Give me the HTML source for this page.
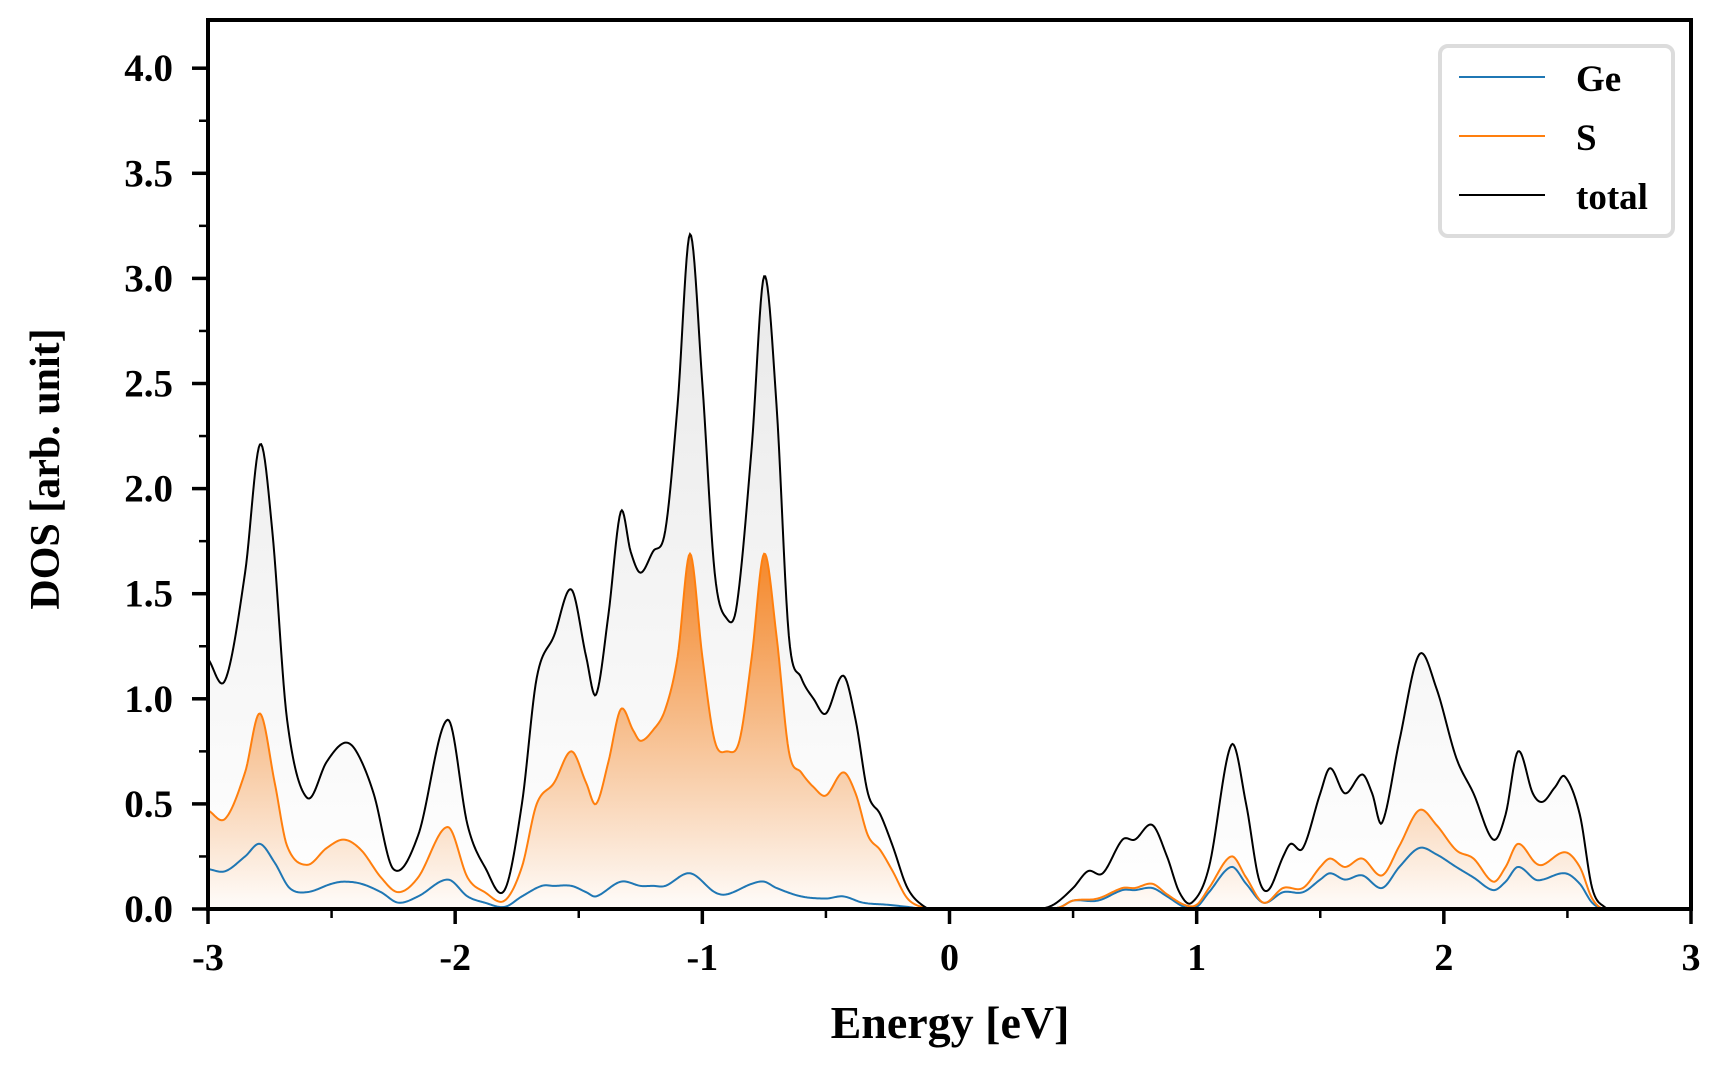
<!DOCTYPE html>
<html><head><meta charset="utf-8"><style>
html,body{margin:0;padding:0;background:#fff;}
svg{display:block;}
text{font-family:"Liberation Serif",serif;font-weight:bold;fill:#000;}
</style></head><body>
<svg id="chart" width="1728" height="1080" viewBox="0 0 1728 1080" xmlns="http://www.w3.org/2000/svg">
<defs>
<linearGradient id="gTot" gradientUnits="userSpaceOnUse" x1="0" y1="240" x2="0" y2="909">
<stop offset="0" stop-color="#e8e8e8"/><stop offset="1" stop-color="#ffffff"/></linearGradient>
<linearGradient id="gS" gradientUnits="userSpaceOnUse" x1="0" y1="553" x2="0" y2="909">
<stop offset="0" stop-color="#f5821f" stop-opacity="0.95"/><stop offset="1" stop-color="#f5821f" stop-opacity="0.02"/></linearGradient>
</defs>
<g id="plot"></g>
<rect x="208" y="20" width="1483" height="889" fill="none" stroke="#000" stroke-width="4"/>
<g id="ticks"></g>
<text x="950" y="1038" font-size="46" text-anchor="middle">Energy [eV]</text>
<text x="0" y="0" font-size="42" text-anchor="middle" transform="translate(59,469) rotate(-90)">DOS [arb. unit]</text>
<g>
<rect x="1440" y="46" width="233" height="190" rx="8" fill="#fff" fill-opacity="0.85" stroke="#dcdcdc" stroke-width="4"/>
<line x1="1459" y1="77" x2="1545" y2="77" stroke="#1f77b4" stroke-width="2"/>
<text x="1576" y="91" font-size="37">Ge</text>
<line x1="1459" y1="136" x2="1545" y2="136" stroke="#ff7f0e" stroke-width="2"/>
<text x="1576" y="150" font-size="37">S</text>
<line x1="1459" y1="195" x2="1545" y2="195" stroke="#000" stroke-width="2"/>
<text x="1576" y="209" font-size="37">total</text>
</g>
</svg>
<script>
const totalE=[-3,-2.93,-2.85,-2.79,-2.74,-2.68,-2.6,-2.52,-2.45,-2.4,-2.33,-2.25,-2.15,-2.03,-1.95,-1.88,-1.8,-1.73,-1.67,-1.6,-1.53,-1.47,-1.43,-1.38,-1.33,-1.29,-1.25,-1.2,-1.15,-1.1,-1.05,-1.0,-0.95,-0.9,-0.86,-0.8,-0.75,-0.7,-0.65,-0.6,-0.55,-0.5,-0.43,-0.38,-0.33,-0.28,-0.23,-0.17,-0.1,-0.05,0.35,0.42,0.5,0.56,0.62,0.7,0.75,0.82,0.88,0.93,0.98,1.05,1.14,1.2,1.25,1.29,1.35,1.38,1.43,1.5,1.54,1.6,1.67,1.71,1.75,1.82,1.9,1.97,2.05,2.12,2.2,2.25,2.3,2.36,2.4,2.45,2.49,2.55,2.6,2.65,2.7,3];
const totalV=[1.19,1.09,1.6,2.21,1.8,0.9,0.53,0.7,0.79,0.75,0.55,0.19,0.35,0.9,0.4,0.2,0.09,0.5,1.1,1.3,1.52,1.2,1.02,1.4,1.89,1.7,1.6,1.7,1.8,2.4,3.21,2.5,1.6,1.38,1.45,2.2,3.01,2.4,1.3,1.1,1.0,0.93,1.11,0.9,0.55,0.45,0.3,0.1,0.01,0,0,0.02,0.1,0.18,0.17,0.33,0.33,0.4,0.25,0.08,0.03,0.2,0.78,0.5,0.15,0.09,0.25,0.31,0.29,0.55,0.67,0.55,0.64,0.55,0.41,0.8,1.21,1.05,0.72,0.55,0.33,0.45,0.75,0.55,0.51,0.58,0.63,0.45,0.1,0.01,0,0];
const sE=[-3,-2.93,-2.85,-2.79,-2.73,-2.68,-2.6,-2.52,-2.45,-2.38,-2.3,-2.23,-2.15,-2.03,-1.95,-1.88,-1.8,-1.73,-1.67,-1.6,-1.53,-1.47,-1.43,-1.38,-1.33,-1.28,-1.25,-1.2,-1.15,-1.1,-1.05,-1.0,-0.95,-0.9,-0.85,-0.8,-0.75,-0.7,-0.65,-0.6,-0.55,-0.5,-0.43,-0.38,-0.33,-0.28,-0.23,-0.17,-0.1,-0.05,0.4,0.45,0.5,0.6,0.7,0.75,0.82,0.88,0.95,1.0,1.05,1.14,1.2,1.27,1.35,1.43,1.5,1.54,1.6,1.67,1.75,1.82,1.9,1.97,2.05,2.12,2.2,2.25,2.3,2.37,2.4,2.49,2.55,2.6,2.65,3];
const sV=[0.47,0.43,0.65,0.93,0.6,0.3,0.21,0.29,0.33,0.28,0.15,0.08,0.15,0.39,0.15,0.08,0.04,0.2,0.5,0.6,0.75,0.6,0.5,0.7,0.95,0.85,0.8,0.85,0.95,1.2,1.69,1.2,0.8,0.75,0.8,1.2,1.69,1.3,0.75,0.65,0.58,0.54,0.65,0.55,0.35,0.28,0.18,0.05,0.005,0,0,0.01,0.04,0.05,0.1,0.1,0.12,0.07,0.02,0.02,0.1,0.25,0.15,0.03,0.1,0.1,0.2,0.24,0.2,0.24,0.16,0.3,0.47,0.4,0.28,0.24,0.13,0.2,0.31,0.22,0.21,0.27,0.2,0.05,0,0];
const geE=[-3,-2.93,-2.85,-2.79,-2.73,-2.67,-2.6,-2.5,-2.45,-2.38,-2.3,-2.23,-2.15,-2.03,-1.95,-1.88,-1.8,-1.73,-1.65,-1.6,-1.53,-1.47,-1.43,-1.33,-1.25,-1.2,-1.15,-1.05,-0.95,-0.9,-0.8,-0.75,-0.7,-0.6,-0.5,-0.43,-0.35,-0.25,-0.17,-0.1,0.4,0.45,0.5,0.6,0.7,0.75,0.82,0.88,0.95,1.0,1.05,1.14,1.2,1.27,1.35,1.43,1.5,1.54,1.6,1.67,1.75,1.82,1.9,1.97,2.05,2.12,2.2,2.25,2.3,2.37,2.4,2.49,2.55,2.6,2.65,3];
const geV=[0.19,0.18,0.25,0.31,0.22,0.1,0.08,0.12,0.13,0.12,0.08,0.03,0.06,0.14,0.06,0.03,0.01,0.06,0.11,0.11,0.11,0.08,0.06,0.13,0.11,0.11,0.11,0.17,0.08,0.07,0.12,0.13,0.1,0.06,0.05,0.06,0.03,0.02,0.01,0,0,0.01,0.04,0.04,0.09,0.09,0.1,0.06,0.01,0.01,0.08,0.2,0.12,0.03,0.08,0.08,0.14,0.17,0.14,0.16,0.1,0.2,0.29,0.26,0.2,0.15,0.09,0.13,0.2,0.14,0.14,0.17,0.12,0.03,0,0];
const xTicks=[-3,-2,-1,0,1,2,3];
const xTickLabels=["-3","-2","-1","0","1","2","3"];
const yTicks=[0,0.5,1,1.5,2,2.5,3,3.5,4];
const yTickLabels=["0.0","0.5","1.0","1.5","2.0","2.5","3.0","3.5","4.0"];

const X0=208,X1=1691,Y0=909,YTOP=20;
const xMin=-3,xMax=3,yMin=0,yMax=(Y0-YTOP)/210.2;
function sx(e){return X0+(e-xMin)/(xMax-xMin)*(X1-X0);}
function sy(v){return Y0-(v-yMin)/(yMax-yMin)*(Y0-YTOP);}
const NS="http://www.w3.org/2000/svg";
function mk(tag,attrs,parent){const el=document.createElementNS(NS,tag);for(const k in attrs)el.setAttribute(k,attrs[k]);parent.appendChild(el);return el;}
function spline(xs,ys){
  const n=xs.length,m=new Array(n);
  for(let i=0;i<n;i++){
    if(i===0)m[i]=(ys[1]-ys[0])/(xs[1]-xs[0]);
    else if(i===n-1)m[i]=(ys[n-1]-ys[n-2])/(xs[n-1]-xs[n-2]);
    else m[i]=(ys[i+1]-ys[i-1])/(xs[i+1]-xs[i-1]);
  }
  const pts=[];
  for(let i=0;i<n-1;i++){
    const h=xs[i+1]-xs[i],steps=Math.max(2,Math.ceil(h*200));
    for(let k=0;k<steps;k++){
      const t=k/steps,t2=t*t,t3=t2*t;
      const v=(2*t3-3*t2+1)*ys[i]+(t3-2*t2+t)*h*m[i]+(-2*t3+3*t2)*ys[i+1]+(t3-t2)*h*m[i+1];
      pts.push([sx(xs[i]+t*h),sy(Math.max(0,v))]);
    }
  }
  pts.push([sx(xs[n-1]),sy(ys[n-1])]);
  return pts;
}
function pathD(pts){return "M"+pts.map(p=>p[0].toFixed(2)+","+p[1].toFixed(2)).join("L");}
function fillD(pts){return pathD(pts)+"L"+pts[pts.length-1][0].toFixed(2)+","+sy(0)+"L"+pts[0][0].toFixed(2)+","+sy(0)+"Z";}
const plot=document.getElementById('plot');
const tp=spline(totalE,totalV),spts=spline(sE,sV),gp=spline(geE,geV);
const f1=mk('path',{d:fillD(tp),fill:'url(#gTot)'},plot);


const f2=mk('path',{d:fillD(spts),fill:'url(#gS)'},plot);


const l1=mk('path',{d:pathD(gp),fill:'none',stroke:'#1f77b4','stroke-width':2},plot);


const l2=mk('path',{d:pathD(spts),fill:'none',stroke:'#ff7f0e','stroke-width':2},plot);


const l3=mk('path',{d:pathD(tp),fill:'none',stroke:'#000','stroke-width':2},plot);



const tg=document.getElementById('ticks');
xTicks.forEach((t,i)=>{
  const ln=mk('line',{x1:sx(t),x2:sx(t),y1:Y0,y2:Y0+15,stroke:'#000','stroke-width':3.5},tg);
  
  
  const tx=mk('text',{x:sx(t),y:Y0+61,'font-size':38,'text-anchor':'middle'},tg);
  tx.textContent=xTickLabels[i];
  
  
  if(i<xTicks.length-1){
    const mn=mk('line',{x1:sx(t+0.5),x2:sx(t+0.5),y1:Y0,y2:Y0+9,stroke:'#000','stroke-width':2.5},tg);
    
    
  }
});
yTicks.forEach((t,i)=>{
  const ln=mk('line',{x1:X0-16,x2:X0,y1:sy(t),y2:sy(t),stroke:'#000','stroke-width':3.5},tg);
  
  
  const tx=mk('text',{x:173,y:sy(t)+13,'font-size':39,'text-anchor':'end'},tg);
  tx.textContent=yTickLabels[i];
  
  
  if(t+0.25<yMax){
    const mn=mk('line',{x1:X0-9,x2:X0,y1:sy(t+0.25),y2:sy(t+0.25),stroke:'#000','stroke-width':2.5},tg);
    
    
  }
});
</script>
</body></html>
